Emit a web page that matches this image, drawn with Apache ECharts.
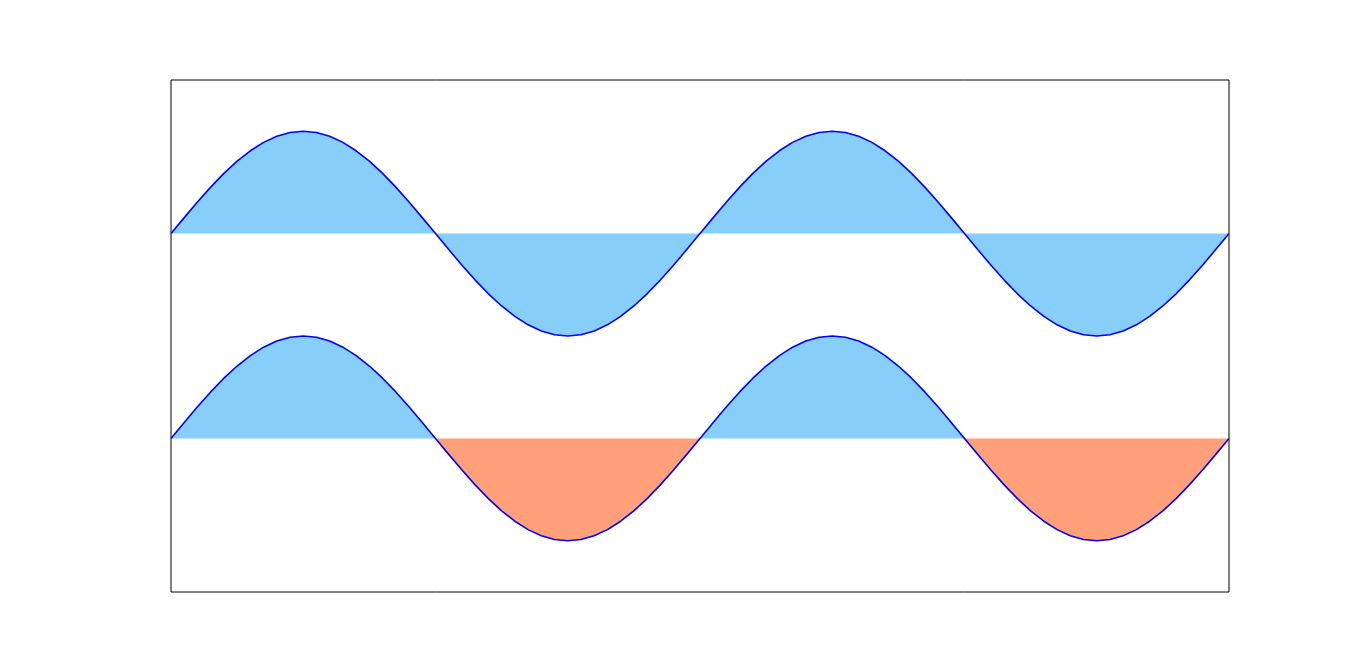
<!DOCTYPE html>
<html>
<head>
<meta charset="utf-8">
<script src="https://cdn.jsdelivr.net/npm/echarts@6/dist/echarts.min.js"></script>
<style>html,body{margin:0;padding:0;background:#fff}#c{width:1366px;height:665px}</style>
</head>
<body>
<div id="c"></div>
<script>
var xValues = [0,0.025,0.05,0.075,0.1,0.125,0.15,0.175,0.2,0.225,0.25,0.275,0.3,0.325,0.35,0.375,0.4,0.425,0.45,0.475,
0.5,0.525,0.55,0.575,0.6,0.625,0.65,0.675,0.7,0.725,0.75,0.775,0.8,0.825,0.85,0.875,0.9,0.925,0.95,0.975,
1,1.025,1.05,1.075,1.1,1.125,1.15,1.175,1.2,1.225,1.25,1.275,1.3,1.325,1.35,1.375,1.4,1.425,1.45,1.475,
1.5,1.525,1.55,1.575,1.6,1.625,1.65,1.675,1.7,1.725,1.75,1.775,1.8,1.825,1.85,1.875,1.9,1.925,1.95,1.975,2];

var upperValues = [1,1.156,1.309,1.454,1.588,1.707,1.809,1.891,1.951,1.988,2,1.988,1.951,1.891,1.809,1.707,1.588,1.454,1.309,1.156,
1,0.844,0.691,0.546,0.412,0.293,0.191,0.109,0.049,0.012,0,0.012,0.049,0.109,0.191,0.293,0.412,0.546,0.691,0.844,
1,1.156,1.309,1.454,1.588,1.707,1.809,1.891,1.951,1.988,2,1.988,1.951,1.891,1.809,1.707,1.588,1.454,1.309,1.156,
1,0.844,0.691,0.546,0.412,0.293,0.191,0.109,0.049,0.012,0,0.012,0.049,0.109,0.191,0.293,0.412,0.546,0.691,0.844,1];

var lowerValues = [-1,-0.844,-0.691,-0.546,-0.412,-0.293,-0.191,-0.109,-0.049,-0.012,0,-0.012,-0.049,-0.109,-0.191,-0.293,-0.412,-0.546,-0.691,-0.844,
-1,-1.156,-1.309,-1.454,-1.588,-1.707,-1.809,-1.891,-1.951,-1.988,-2,-1.988,-1.951,-1.891,-1.809,-1.707,-1.588,-1.454,-1.309,-1.156,
-1,-0.844,-0.691,-0.546,-0.412,-0.293,-0.191,-0.109,-0.049,-0.012,0,-0.012,-0.049,-0.109,-0.191,-0.293,-0.412,-0.546,-0.691,-0.844,
-1,-1.156,-1.309,-1.454,-1.588,-1.707,-1.809,-1.891,-1.951,-1.988,-2,-1.988,-1.951,-1.891,-1.809,-1.707,-1.588,-1.454,-1.309,-1.156,-1];

var upperBase = 1;
var lowerBase = -1;

function pairs(xs, ys){ return xs.map(function(x,i){ return [x, ys[i]]; }); }
// lower curve split at its baseline: part above (blue fill) and part below (salmon fill)
var lowerAbove = lowerValues.map(function(v){ return Math.max(v, lowerBase); });
var lowerBelow = lowerValues.map(function(v){ return Math.min(v, lowerBase); });

var chart = echarts.init(document.getElementById('c'), null, {renderer:'canvas'});
chart.setOption({
  animation: false,
  backgroundColor: '#fff',
  grid: {left:171, top:80, width:1058, height:512, show:true, borderColor:'#000', borderWidth:1, backgroundColor:'transparent'},
  xAxis: {type:'value', min:0, max:2, axisLine:{show:false}, axisTick:{show:false}, axisLabel:{show:false}, splitLine:{show:false}},
  yAxis: {type:'value', min:-2.5, max:2.5, axisLine:{show:false}, axisTick:{show:false}, axisLabel:{show:false}, splitLine:{show:false}},
  series: [
    {type:'line', data:pairs(xValues, upperValues), showSymbol:false,
     lineStyle:{color:'#0000FF', width:1.6}, itemStyle:{color:'#0000FF'},
     areaStyle:{color:'#87CEFA', opacity:1, origin:upperBase}, z:2},
    {type:'line', data:pairs(xValues, lowerAbove), showSymbol:false,
     lineStyle:{width:0, opacity:0}, areaStyle:{color:'#87CEFA', opacity:1, origin:lowerBase}, z:2},
    {type:'line', data:pairs(xValues, lowerBelow), showSymbol:false,
     lineStyle:{width:0, opacity:0}, areaStyle:{color:'#FFA07A', opacity:1, origin:lowerBase}, z:2},
    {type:'line', data:pairs(xValues, lowerValues), showSymbol:false,
     lineStyle:{color:'#0000FF', width:1.6}, itemStyle:{color:'#0000FF'}, z:3}
  ]
});
</script>
</body>
</html>
